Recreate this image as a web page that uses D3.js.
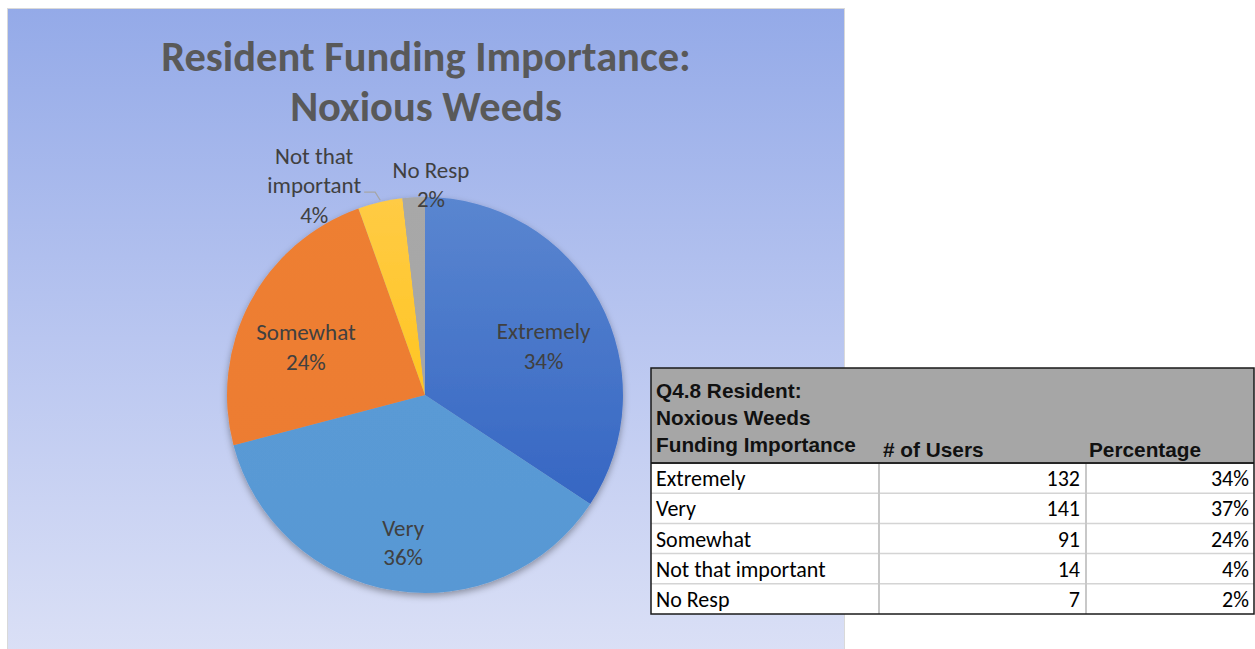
<!DOCTYPE html>
<html>
<head>
<meta charset="utf-8">
<script src="https://cdn.jsdelivr.net/npm/d3@7"></script>
<style>
  html, body { margin: 0; padding: 0; background: #ffffff; }
  svg { display: block; }
</style>
</head>
<body>
<svg id="chart" width="1255" height="649"></svg>
<script>
// Survey answers: how important is funding for noxious weed control
const categories = ["Extremely", "Very", "Somewhat", "Not that important", "No Resp"];
const users = [132, 141, 91, 14, 7];
const pieLabels = ["34%", "36%", "24%", "4%", "2%"];
const tablePercent = ["34%", "37%", "24%", "4%", "2%"];
const titleLines = ["Resident Funding Importance:", "Noxious Weeds"];
const tableHeader = ["Q4.8 Resident:", "Noxious Weeds", "Funding Importance"];
const columnHeaders = ["# of Users", "Percentage"];

// slice fills: [top colour, bottom colour]
const sliceColors = [
  ["#5A86D0", "#2B5DBF"],
  ["#5C9CD6", "#5898D4"],
  ["#EE7F33", "#EC7B2F"],
  ["#FFCB45", "#FFC000"],
  ["#A8A8A8", "#A3A3A3"]
];

const svg = d3.select("#chart");
const defs = svg.append("defs");

const bodyFont = "Carlito, Lato, 'Open Sans', sans-serif";

// ---- chart panel background ----
const bg = defs.append("linearGradient").attr("id", "panelBg")
  .attr("x1", 0).attr("y1", 0).attr("x2", 0).attr("y2", 1);
bg.append("stop").attr("offset", "0%").attr("stop-color", "#94AAE8");
bg.append("stop").attr("offset", "50%").attr("stop-color", "#B9C6F0");
bg.append("stop").attr("offset", "100%").attr("stop-color", "#DCE1F6");

svg.append("rect")
  .attr("x", 7.5).attr("y", 8.5)
  .attr("width", 837).attr("height", 660)
  .attr("fill", "url(#panelBg)")
  .attr("stroke", "#D9D9D9").attr("stroke-width", 1);

// ---- title ----
const title = svg.append("text")
  .attr("text-anchor", "middle")
  .attr("fill", "#595959")
  .attr("font-family", bodyFont)
  .attr("font-weight", "bold")
  .attr("font-size", 42.5);
titleLines.forEach((t, i) => {
  title.append("tspan").attr("x", 426).attr("y", 71 + i * 50).text(t);
});

// ---- pie ----
const cx = 425, cy = 395, R = 198;
const pie = d3.pie().sort(null).value(d => d).startAngle(0).endAngle(2 * Math.PI);
const arcs = pie(users);
const arc = d3.arc().innerRadius(0).outerRadius(R);

sliceColors.forEach((c, i) => {
  const g = defs.append("linearGradient").attr("id", "slice" + i)
    .attr("gradientUnits", "userSpaceOnUse")
    .attr("x1", 0).attr("y1", -R).attr("x2", 0).attr("y2", R);
  g.append("stop").attr("offset", "0%").attr("stop-color", c[0]);
  g.append("stop").attr("offset", "100%").attr("stop-color", c[1]);
});

const shadow = defs.append("filter").attr("id", "pieShadow")
  .attr("x", "-20%").attr("y", "-20%").attr("width", "140%").attr("height", "140%");
shadow.append("feDropShadow")
  .attr("dx", 0).attr("dy", 3).attr("stdDeviation", 3.5)
  .attr("flood-color", "#000").attr("flood-opacity", 0.35);

const pieG = svg.append("g").attr("transform", `translate(${cx},${cy})`);
pieG.append("g").attr("filter", "url(#pieShadow)")
  .selectAll("path").data(arcs).join("path")
  .attr("d", arc)
  .attr("fill", (d, i) => `url(#slice${i})`);

// labels: large slices inside, small slices outside with a leader when crowded
const lineH = 29.5;
const labelFont = 23;
const insideArc = d3.arc().innerRadius(R * 0.68).outerRadius(R * 0.68);
const labelG = pieG.append("g")
  .attr("font-family", bodyFont)
  .attr("font-size", labelFont)
  .attr("fill", "#404040")
  .attr("text-anchor", "middle");

const measure = svg.append("text").attr("font-family", bodyFont).attr("font-size", labelFont);
function textWidth(s) { measure.text(s); return measure.node().getComputedTextLength(); }

const outside = [];
arcs.forEach((d, i) => {
  const share = (d.endAngle - d.startAngle) / (2 * Math.PI);
  if (share > 0.1) {
    const [x, y] = insideArc.centroid(d);
    const t = labelG.append("text");
    t.append("tspan").attr("x", x).attr("y", y + 8).text(categories[i]);
    t.append("tspan").attr("x", x).attr("y", y + 8 + lineH).text(pieLabels[i]);
  } else {
    const words = categories[i].split(" ");
    const lines = words.length > 2 ? [words.slice(0, 2).join(" "), words.slice(2).join(" ")] : [categories[i]];
    lines.push(pieLabels[i]);
    const w = d3.max(lines, textWidth);
    outside.push({ d, i, lines, w });
  }
});
measure.remove();

// place outer labels from right to left; a crowded one moves left and gets a leader line
outside.sort((a, b) => b.d.endAngle - a.d.endAngle);
let leftLimit = Infinity;
outside.forEach(o => {
  const n = o.lines.length;
  const mid = (o.d.startAngle + o.d.endAngle) / 2;
  const ex = Math.sin(mid) * R, ey = -Math.cos(mid) * R;
  let x = Math.sin(o.d.endAngle) * (R + 10) + 6;
  let y0 = -R + 10 - (n - 1) * lineH;
  if (x + o.w / 2 + 10 > leftLimit) {
    const lx = ex - 16, ly = ey - 10;
    x = lx - 3 - o.w / 2;
    y0 = ly + 1 - Math.floor(n / 2) * lineH;
    pieG.append("polyline")
      .attr("points", [[lx, ly], [ex - 5, ly], [ex, ey - 2]].map(p => p.join(",")).join(" "))
      .attr("fill", "none").attr("stroke", "#A6A6A6").attr("stroke-width", 1.2);
  }
  leftLimit = x - o.w / 2;
  const t = labelG.append("text");
  o.lines.forEach((s, k) => t.append("tspan").attr("x", x).attr("y", y0 + k * lineH).text(s));
});

// ---- data table ----
const tx = 651, tw = 603, ty = 368, headH = 95, rowH = 30.2;
const colX = [tx, 879, 1086, tx + tw];
const table = svg.append("g");

table.append("rect")
  .attr("x", tx).attr("y", ty).attr("width", tw).attr("height", headH + rowH * categories.length)
  .attr("fill", "#ffffff");
table.append("rect")
  .attr("x", tx).attr("y", ty).attr("width", tw).attr("height", headH)
  .attr("fill", "#A6A6A6");

// grid lines of the body
const rowY = d3.range(categories.length + 1).map(k => ty + headH + k * rowH);
table.selectAll("line.row").data(rowY.slice(1, -1)).join("line")
  .attr("x1", tx).attr("x2", tx + tw).attr("y1", d => d).attr("y2", d => d)
  .attr("stroke", "#D4D4D4").attr("stroke-width", 1.5);
table.selectAll("line.col").data(colX.slice(1, 3)).join("line")
  .attr("x1", d => d).attr("x2", d => d).attr("y1", ty + headH).attr("y2", rowY[rowY.length - 1])
  .attr("stroke", "#C8C8C8").attr("stroke-width", 2);
table.append("line")
  .attr("x1", tx).attr("x2", tx + tw).attr("y1", ty + headH).attr("y2", ty + headH)
  .attr("stroke", "#262626").attr("stroke-width", 2);
table.append("rect")
  .attr("x", tx).attr("y", ty).attr("width", tw).attr("height", headH + rowH * categories.length)
  .attr("fill", "none").attr("stroke", "#1A1A1A").attr("stroke-width", 1.5);

// header text
const headFont = "'Liberation Sans', Arial, sans-serif";
const hdr = table.append("g")
  .attr("font-family", headFont).attr("font-weight", "bold")
  .attr("font-size", 20.8).attr("fill", "#111");
tableHeader.forEach((s, k) => {
  hdr.append("text").attr("x", tx + 5).attr("y", ty + 30 + k * 27).text(s);
});
hdr.append("text").attr("x", colX[1] + 4).attr("y", ty + 89).text(columnHeaders[0]);
hdr.append("text").attr("x", colX[2] + 3).attr("y", ty + 89).text(columnHeaders[1]);

// body rows
const body = table.append("g")
  .attr("font-family", bodyFont).attr("font-size", 22).attr("fill", "#000");
categories.forEach((c, k) => {
  const y = rowY[k] + rowH / 2 + 8;
  body.append("text").attr("x", tx + 5).attr("y", y).text(c);
  body.append("text").attr("x", colX[2] - 6).attr("y", y).attr("text-anchor", "end").text(users[k]);
  body.append("text").attr("x", colX[3] - 5).attr("y", y).attr("text-anchor", "end").text(tablePercent[k]);
});
</script>
</body>
</html>
